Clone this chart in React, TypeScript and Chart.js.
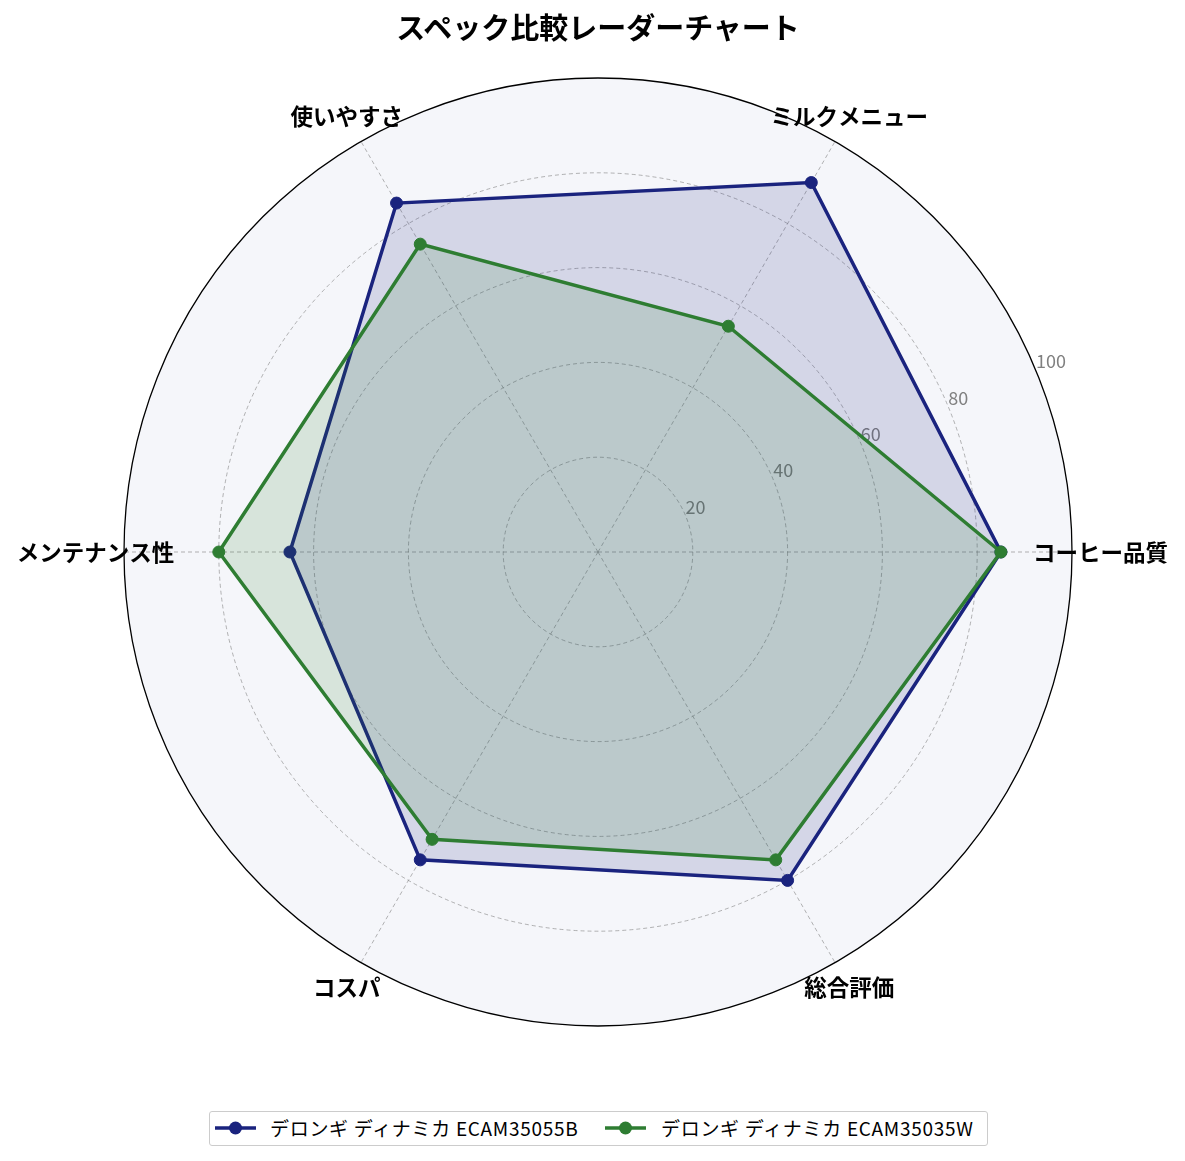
import React, { useEffect, useRef } from 'react';
import { Chart, registerables } from 'chart.js';

Chart.register(...registerables);

// Categories, counter-clockwise from the right
const categories = ['コーヒー品質', 'ミルクメニュー', '使いやすさ', 'メンテナンス性', 'コスパ', '総合評価'];
const seriesNames = ['デロンギ ディナミカ ECAM35055B', 'デロンギ ディナミカ ECAM35035W'];
const valuesB = [85, 90, 85, 65, 75, 80];
const valuesW = [85, 55, 75, 80, 70, 75];
const radialTicks = [20, 40, 60, 80, 100];

const lineColors = ['#1a237e', '#2e7d32'];
const fillColors = ['rgba(26, 35, 126, 0.15)', 'rgba(46, 125, 50, 0.15)'];

const FONT = '"Noto Sans CJK JP", "Noto Sans", sans-serif';

// Chart.js walks clockwise from startAngle, the reference walks counter-clockwise
const toClockwise = <T,>(arr: T[]): T[] => [arr[0], ...arr.slice(1).reverse()];

const radarTextPlugin = {
  id: 'radarText',
  beforeDatasetsDraw(chart: any) {
    const scale = chart.scales.r;
    const ctx = chart.ctx;
    const a = (22.5 * Math.PI) / 180;
    ctx.save();
    ctx.font = `18px ${FONT}`;
    ctx.fillStyle = '#808080';
    ctx.textAlign = 'left';
    ctx.textBaseline = 'bottom';
    scale.ticks.forEach((t: any) => {
      if (!radialTicks.includes(t.value)) return;
      const d = scale.getDistanceFromCenterForValue(t.value);
      ctx.fillText(String(t.value), scale.xCenter + d * Math.cos(a), scale.yCenter - d * Math.sin(a));
    });
    ctx.restore();
  },
  afterDraw(chart: any) {
    const scale = chart.scales.r;
    const ctx = chart.ctx;
    const d = scale.getDistanceFromCenterForValue(106);
    ctx.save();
    ctx.font = `bold 22.5px ${FONT}`;
    ctx.fillStyle = '#000';
    ctx.textAlign = 'center';
    ctx.textBaseline = 'middle';
    (chart.data.labels as string[]).forEach((lab, i) => {
      const p = scale.getPointPosition(i, d);
      ctx.fillText(lab, p.x, p.y);
    });
    ctx.restore();
  },
};

const LegendMark: React.FC<{ color: string }> = ({ color }) => (
  <svg width={41} height={14} style={{ display: 'block' }}>
    <line x1={0} y1={7} x2={41} y2={7} stroke={color} strokeWidth={3.5} />
    <circle cx={20.5} cy={7} r={6.5} fill={color} />
  </svg>
);

const App: React.FC = () => {
  const canvasRef = useRef<HTMLCanvasElement>(null);
  const chartRef = useRef<Chart | null>(null);

  useEffect(() => {
    if (!canvasRef.current) return;
    if (chartRef.current) chartRef.current.destroy();

    Chart.defaults.font.family = FONT;

    const isOuter = (c: any) => c.tick && c.tick.value === 100;

    chartRef.current = new Chart(canvasRef.current, {
      type: 'radar',
      data: {
        labels: toClockwise(categories),
        datasets: [
          {
            label: seriesNames[0],
            data: toClockwise(valuesB),
            borderColor: lineColors[0],
            backgroundColor: fillColors[0],
            pointBackgroundColor: lineColors[0],
            pointBorderColor: lineColors[0],
            fill: true,
            order: 1,
          },
          {
            label: seriesNames[1],
            data: toClockwise(valuesW),
            borderColor: lineColors[1],
            backgroundColor: fillColors[1],
            pointBackgroundColor: lineColors[1],
            pointBorderColor: lineColors[1],
            fill: true,
            order: 0,
          },
        ],
      },
      options: {
        responsive: false,
        animation: false,
        layout: { padding: { left: 124, right: 113, top: 78, bottom: 135 } },
        elements: {
          line: { borderWidth: 3.5, tension: 0 },
          point: { radius: 6, borderWidth: 1, hoverRadius: 6 },
        },
        scales: {
          r: {
            min: 0,
            max: 100,
            startAngle: 90,
            backgroundColor: '#f5f6fa',
            ticks: { display: false, stepSize: 20 },
            pointLabels: { display: false },
            grid: {
              circular: true,
              color: (c: any) => (isOuter(c) ? '#000000' : 'rgba(130, 130, 130, 0.75)'),
              lineWidth: (c: any) => (isOuter(c) ? 1.3 : 0.8),
            },
            border: {
              dash: (c: any) => (isOuter(c) ? [] : [4, 3]),
            },
            angleLines: {
              color: 'rgba(130, 130, 130, 0.75)',
              lineWidth: 0.8,
              borderDash: [4, 3],
            },
          },
        },
        plugins: {
          legend: { display: false },
          title: { display: false },
          tooltip: { enabled: false },
        },
      } as any,
      plugins: [radarTextPlugin],
    });

    return () => {
      if (chartRef.current) {
        chartRef.current.destroy();
        chartRef.current = null;
      }
    };
  }, []);

  return (
    <div
      style={{
        position: 'absolute',
        left: 0,
        top: 0,
        width: 1185,
        height: 1161,
        background: '#ffffff',
        fontFamily: FONT,
        overflow: 'hidden',
      }}
    >
      <canvas ref={canvasRef} width={1185} height={1161} style={{ position: 'absolute', left: 0, top: 0 }} />
      <div
        style={{
          position: 'absolute',
          left: 0,
          top: 9,
          width: 1196,
          textAlign: 'center',
          fontSize: 29,
          fontWeight: 'bold',
          lineHeight: '35px',
          color: '#000',
        }}
      >
        スペック比較レーダーチャート
      </div>
      <div
        style={{
          position: 'absolute',
          left: 209,
          top: 1111,
          width: 779,
          height: 35,
          boxSizing: 'border-box',
          border: '1px solid #cccccc',
          borderRadius: 3,
          background: '#ffffff',
        }}
      />
      {[0, 1].map(i => (
        <React.Fragment key={i}>
          <div style={{ position: 'absolute', left: i === 0 ? 215 : 605, top: 1121 }}>
            <LegendMark color={lineColors[i]} />
          </div>
          <div
            style={{
              position: 'absolute',
              left: i === 0 ? 270 : 661,
              top: 1114,
              fontSize: 19,
              letterSpacing: 0.7,
              lineHeight: '28px',
              color: '#000',
              whiteSpace: 'nowrap',
            }}
          >
            {seriesNames[i]}
          </div>
        </React.Fragment>
      ))}
    </div>
  );
};

export default App;
